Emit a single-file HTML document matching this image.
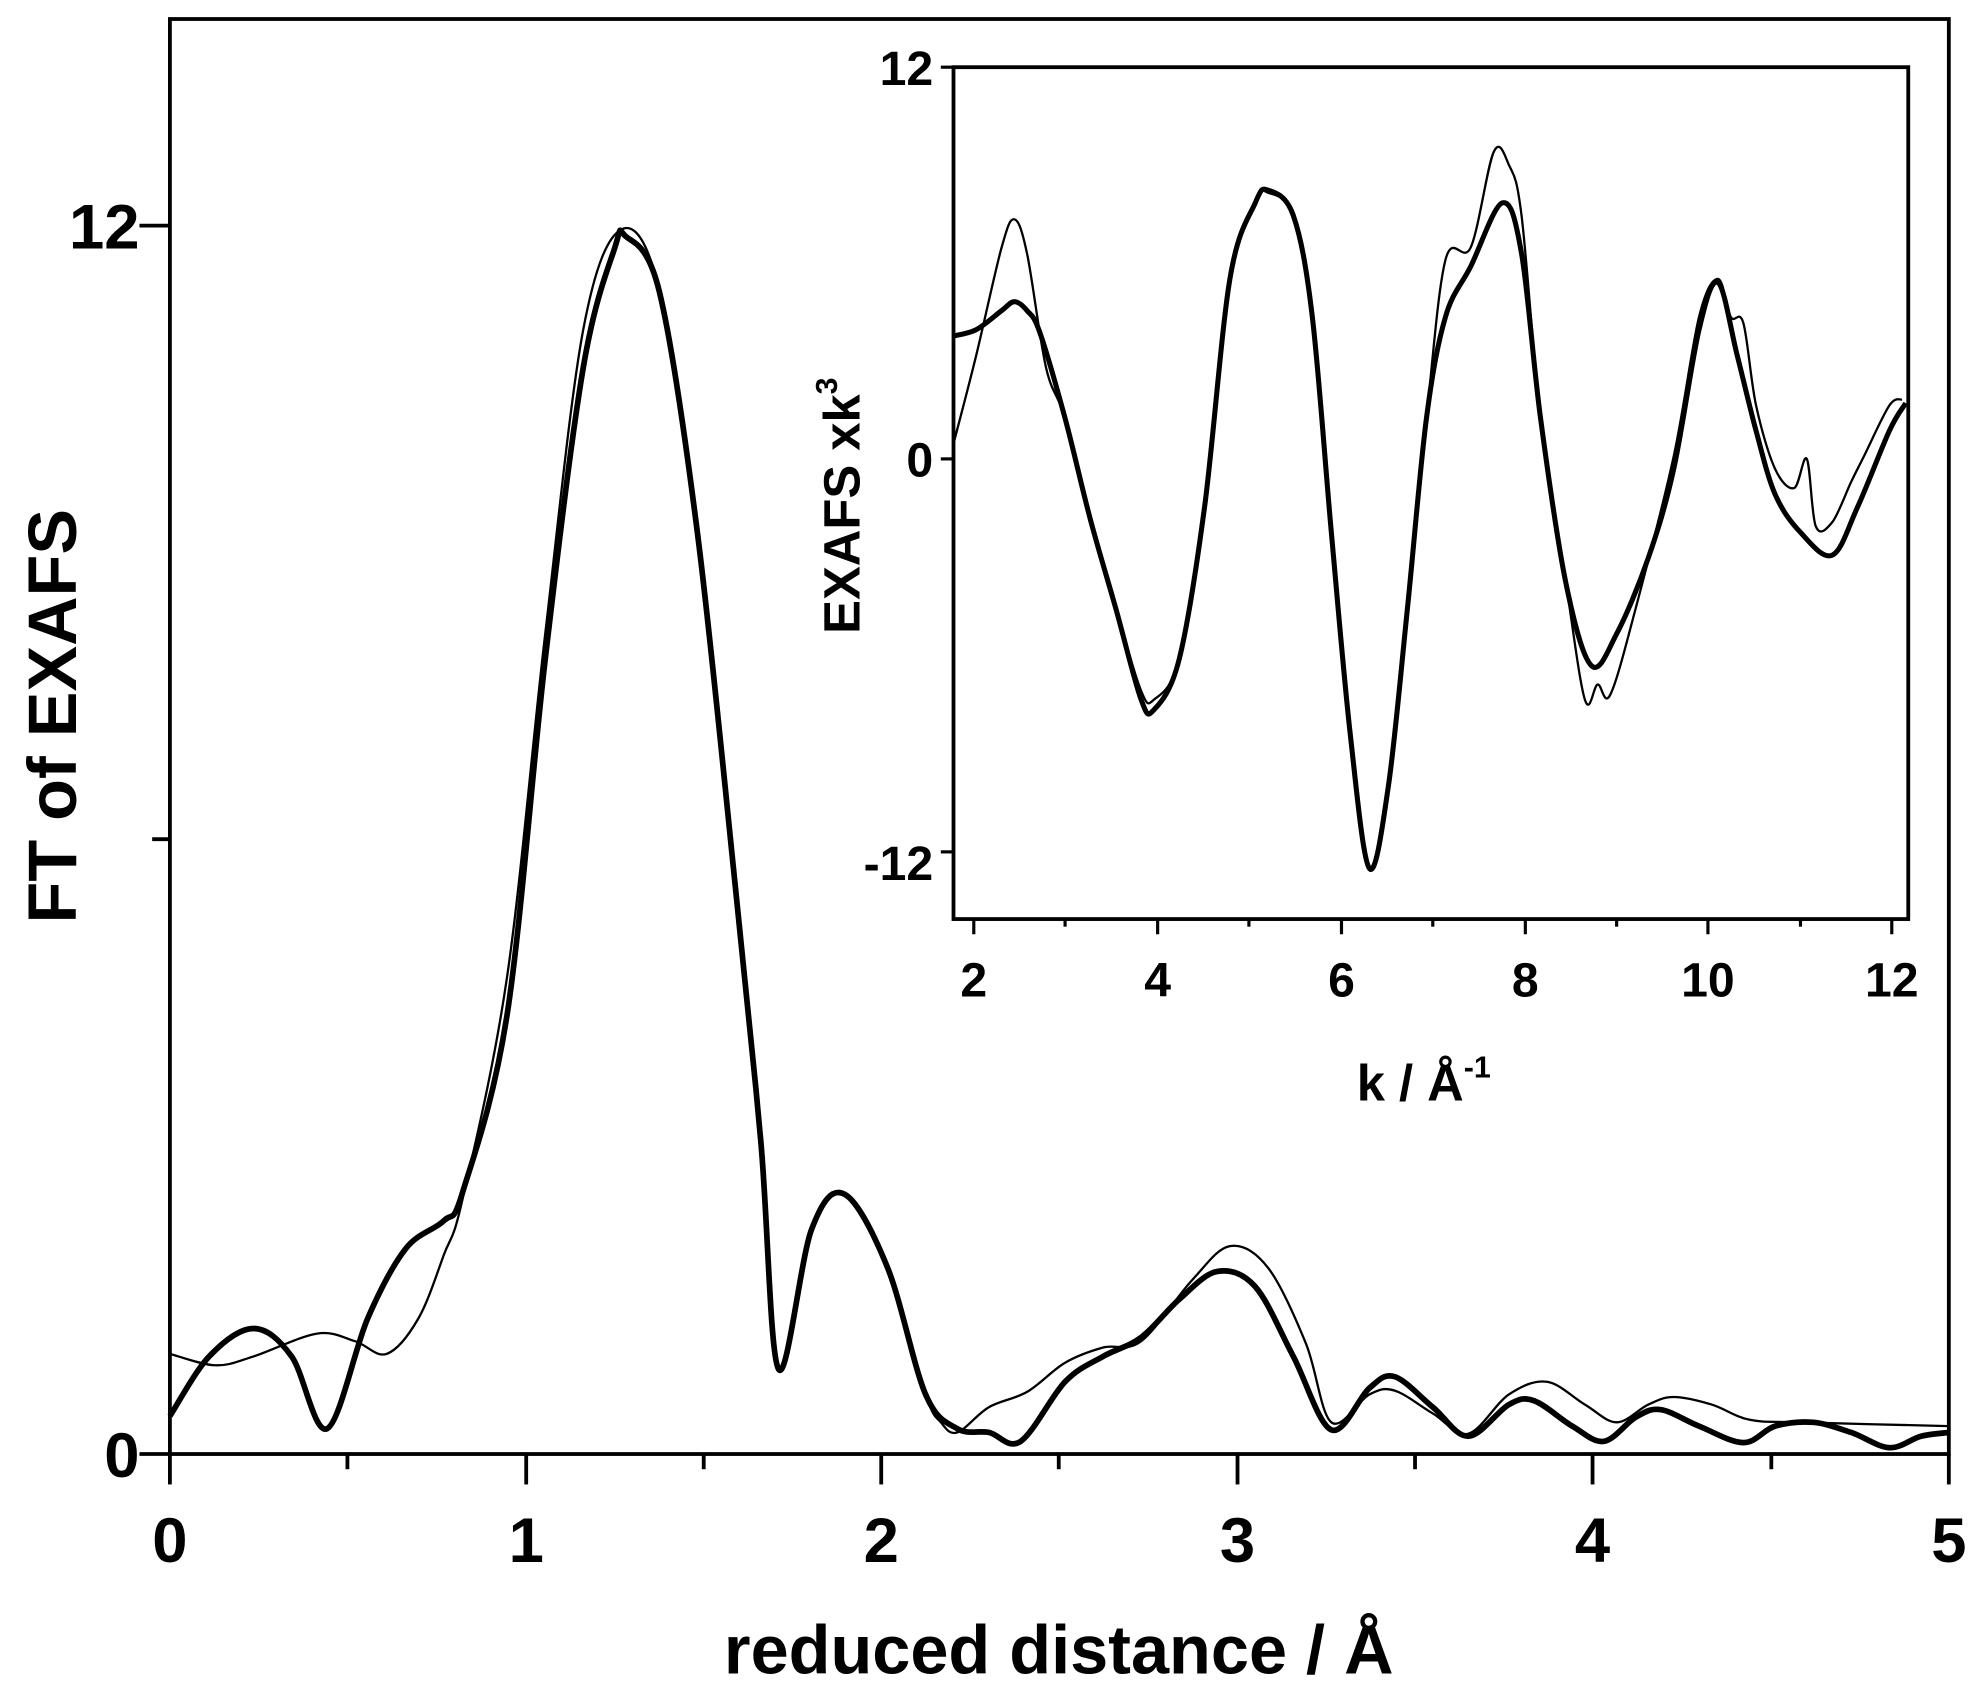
<!DOCTYPE html>
<html><head><meta charset="utf-8"><style>html,body{margin:0;padding:0;background:#fff}svg{display:block}</style></head>
<body>
<svg id="s" width="1978" height="1686" viewBox="0 0 1560 1330" preserveAspectRatio="none" xmlns="http://www.w3.org/2000/svg" font-family="Liberation Sans, Arial, sans-serif" font-weight="bold">
<rect x="134" y="15" width="1403" height="1132" fill="none" stroke="#000" stroke-width="3"/>
<g stroke="#000" stroke-width="3">
<line x1="110" y1="1147" x2="134" y2="1147"/><line x1="110" y1="178" x2="134" y2="178"/><line x1="120" y1="662" x2="134" y2="662"/>
<line x1="134" y1="1147" x2="134" y2="1171"/><line x1="415" y1="1147" x2="415" y2="1171"/><line x1="695" y1="1147" x2="695" y2="1171"/><line x1="976" y1="1147" x2="976" y2="1171"/><line x1="1256" y1="1147" x2="1256" y2="1171"/><line x1="1537" y1="1147" x2="1537" y2="1171"/>
<line x1="274" y1="1147" x2="274" y2="1159"/><line x1="555" y1="1147" x2="555" y2="1159"/><line x1="835" y1="1147" x2="835" y2="1159"/><line x1="1116" y1="1147" x2="1116" y2="1159"/><line x1="1397" y1="1147" x2="1397" y2="1159"/>
</g>
<g font-size="50" text-anchor="middle">
<text x="134" y="1232">0</text><text x="415" y="1232">1</text><text x="695" y="1232">2</text><text x="976" y="1232">3</text><text x="1256" y="1232">4</text><text x="1537" y="1232">5</text>
</g>
<g font-size="50" text-anchor="end"><text x="110" y="196">12</text><text x="110" y="1165">0</text></g>
<text x="835" y="1320" font-size="54" text-anchor="middle">reduced distance / Å</text>
<text transform="translate(60,565) rotate(-90)" font-size="54" text-anchor="middle">FT of EXAFS</text>
<polyline class="sm" fill="none" stroke="#000" stroke-width="1.8" stroke-linejoin="round" points="134,1068 170,1077 200,1070 250,1052 280,1058 305,1068 330,1040 350,990 365,945 400,770 430,500 460,260 490,181 520,228 550,420 580,700 600,900 614,1080 640,970 666,942 700,1000 730,1100 742,1122 755,1130 780,1110 810,1098 840,1075 870,1063 900,1058 940,1010 970,983 1000,1000 1030,1060 1050,1122 1080,1100 1100,1097 1130,1115 1158,1131 1190,1100 1220,1090 1250,1108 1275,1122 1300,1108 1320,1102 1350,1108 1380,1120 1420,1122 1537,1125"/>
<polyline class="sm" fill="none" stroke="#000" stroke-width="4.5" stroke-linejoin="round" points="134,1117 165,1070 200,1048 230,1070 258,1127 290,1040 320,985 350,963 365,940 400,800 430,520 460,290 485,195 493,186 520,230 550,420 580,700 600,900 614,1080 640,970 666,942 700,1000 730,1100 755,1127 780,1130 805,1137 840,1090 870,1070 900,1055 930,1025 960,1003 990,1015 1020,1070 1050,1128 1080,1095 1100,1086 1130,1110 1158,1133 1190,1108 1210,1105 1240,1125 1265,1137 1290,1118 1310,1112 1340,1125 1375,1138 1400,1125 1430,1122 1460,1130 1490,1142 1515,1133 1537,1130"/>
<rect x="752" y="53" width="753" height="672" fill="none" stroke="#000" stroke-width="3"/>
<g stroke="#000" stroke-width="2.5">
<line x1="742" y1="53" x2="752" y2="53"/><line x1="742" y1="362" x2="752" y2="362"/><line x1="742" y1="672" x2="752" y2="672"/>
<line x1="768" y1="725" x2="768" y2="737"/><line x1="913" y1="725" x2="913" y2="737"/><line x1="1058" y1="725" x2="1058" y2="737"/><line x1="1203" y1="725" x2="1203" y2="737"/><line x1="1347" y1="725" x2="1347" y2="737"/><line x1="1492" y1="725" x2="1492" y2="737"/>
<line x1="840" y1="725" x2="840" y2="731"/><line x1="985" y1="725" x2="985" y2="731"/><line x1="1130" y1="725" x2="1130" y2="731"/><line x1="1275" y1="725" x2="1275" y2="731"/><line x1="1420" y1="725" x2="1420" y2="731"/>
</g>
<g font-size="38" text-anchor="middle">
<text x="768" y="786">2</text><text x="913" y="786">4</text><text x="1058" y="786">6</text><text x="1203" y="786">8</text><text x="1347" y="786">10</text><text x="1492" y="786">12</text>
</g>
<g font-size="38" text-anchor="end"><text x="736" y="67">12</text><text x="736" y="376">0</text><text x="736" y="694">-12</text></g>
<text x="1070" y="868" font-size="40">k / Å<tspan font-size="24" dy="-18">-1</tspan></text>
<text transform="translate(678,500) rotate(-90)" font-size="40">EXAFS xk<tspan font-size="24" dy="-18">3</tspan></text>
<polyline class="sm" fill="none" stroke="#000" stroke-width="1.8" stroke-linejoin="round" points="752,350 770,280 790,195 800,173 810,200 825,290 840,330 860,410 880,480 900,545 910,552 930,520 950,400 970,220 990,158 1000,152 1020,170 1035,250 1050,420 1065,580 1080,685 1095,620 1110,480 1125,330 1140,205 1160,195 1178,120 1190,130 1200,170 1215,330 1235,460 1250,552 1260,540 1270,548 1290,480 1320,360 1340,250 1355,220 1365,250 1375,255 1385,320 1400,370 1415,385 1425,362 1432,415 1445,412 1460,380 1470,360 1490,320 1500,315"/>
<polyline class="sm" fill="none" stroke="#000" stroke-width="4" stroke-linejoin="round" points="752,265 770,260 790,245 800,238 810,245 820,262 840,330 860,410 880,480 900,552 910,560 930,520 950,400 970,220 990,160 1000,150 1020,170 1035,250 1050,420 1065,580 1080,685 1095,620 1110,480 1125,330 1140,250 1160,210 1185,160 1200,200 1215,330 1235,460 1255,525 1275,500 1300,440 1320,370 1340,260 1355,223 1370,280 1385,340 1400,390 1420,420 1445,438 1465,400 1490,340 1503,318"/>
</svg>
<script>
document.querySelectorAll('polyline.sm').forEach(function(pl){
  var p=pl.getAttribute('points').trim().split(/\s+/).map(function(s){return s.split(',').map(Number);});
  var d='M'+p[0][0]+','+p[0][1];
  for(var i=0;i<p.length-1;i++){
    var p0=p[i>0?i-1:i],p1=p[i],p2=p[i+1],p3=p[i+2<p.length?i+2:i+1];
    var t=6;
    var c1x=p1[0]+(p2[0]-p0[0])/t,c1y=p1[1]+(p2[1]-p0[1])/t;
    var c2x=p2[0]-(p3[0]-p1[0])/t,c2y=p2[1]-(p3[1]-p1[1])/t;
    d+=' C'+c1x.toFixed(1)+','+c1y.toFixed(1)+' '+c2x.toFixed(1)+','+c2y.toFixed(1)+' '+p2[0]+','+p2[1];
  }
  var path=document.createElementNS('http://www.w3.org/2000/svg','path');
  path.setAttribute('d',d);path.setAttribute('fill','none');path.setAttribute('stroke','#000');
  path.setAttribute('stroke-width',pl.getAttribute('stroke-width'));path.setAttribute('stroke-linejoin','round');
  pl.parentNode.replaceChild(path,pl);
});
</script>
</body></html>
